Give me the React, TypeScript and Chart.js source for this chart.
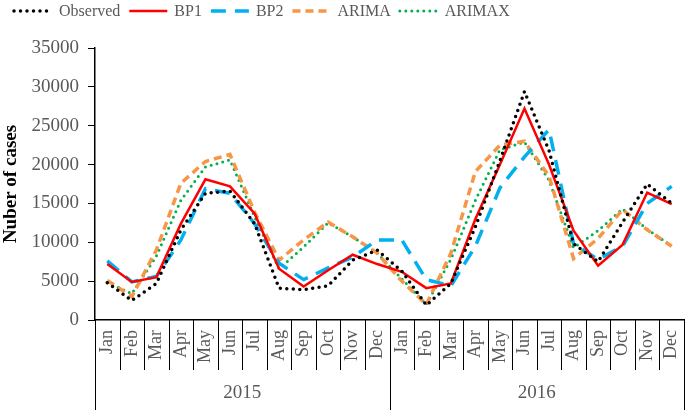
import React, { useEffect, useRef } from "react";
import { Chart, registerables } from "chart.js";

Chart.register(...registerables);

const months = ["Jan", "Feb", "Mar", "Apr", "May", "Jun", "Jul", "Aug", "Sep", "Oct", "Nov", "Dec"];
const years = ["2015", "2016"];
const categories = years.flatMap((y) => months.map((m) => `${m} ${y}`));

const observed = [4800, 2500, 4700, 11600, 16300, 16600, 12400, 4100, 3900, 4400, 7700, 9000,
  6300, 1900, 4700, 12000, 20500, 29400, 21800, 9800, 7500, 12600, 17500, 15000];
const bp1 = [7200, 4900, 5500, 12400, 18100, 17200, 13700, 6600, 4300, 6400, 8400, 7200,
  6200, 4100, 4700, 13000, 20000, 27200, 20000, 11500, 7000, 9700, 16400, 14900];
const bp2 = [7600, 4900, 5600, 10300, 16900, 16300, 12400, 7300, 5200, 6700, 8100, 10300,
  10300, 5200, 4400, 9500, 17000, 21000, 24500, 9800, 7800, 9500, 15000, 17200];
const arima = [5100, 3000, 9000, 17600, 20400, 21300, 13900, 7700, 10300, 12600, 10700, 8600,
  5000, 2000, 8600, 19100, 22500, 23000, 18500, 7900, 10500, 14200, 11600, 9500];
const arimax = [4800, 3400, 8200, 15400, 19700, 20600, 13300, 6600, 9400, 12500, 10700, 8600,
  5300, 2000, 7800, 15400, 21900, 22900, 18000, 9300, 11500, 14300, 11700, 9500];

const yMin = 0;
const yMax = 35000;
const yStep = 5000;

const FONT = "'Liberation Serif', 'Times New Roman', serif";
const GREY = "#595959";

const xAxisLabels = {
  id: "xAxisLabels",
  afterDraw(chart: any) {
    const { ctx, chartArea } = chart;
    const xs = chart.scales.x;
    const n = categories.length;
    const cell = (chartArea.right - chartArea.left) / n;
    const top = chartArea.bottom;
    const H = chart.height;
    ctx.save();
    ctx.strokeStyle = "#000";
    ctx.lineWidth = 1;
    for (let i = 0; i <= n; i++) {
      const xb = Math.round(chartArea.left + i * cell) + 0.5;
      const isYear = i % 12 === 0;
      ctx.beginPath();
      ctx.moveTo(xb, top);
      ctx.lineTo(xb, isYear ? H : top + 50);
      ctx.stroke();
    }
    ctx.fillStyle = GREY;
    ctx.font = `18px ${FONT}`;
    ctx.textAlign = "right";
    ctx.textBaseline = "middle";
    for (let i = 0; i < n; i++) {
      const cx = xs.getPixelForValue(i);
      ctx.save();
      ctx.translate(cx, top + 10);
      ctx.rotate(-Math.PI / 2);
      ctx.fillText(months[i % 12], 0, 0);
      ctx.restore();
    }
    ctx.textAlign = "center";
    ctx.font = `19px ${FONT}`;
    years.forEach((y, k) => {
      const cx = (xs.getPixelForValue(k * 12) + xs.getPixelForValue(k * 12 + 11)) / 2;
      ctx.fillText(y, cx, top + 73);
    });
    ctx.restore();
  },
};

const customLegend = {
  id: "customLegend",
  afterDraw(chart: any) {
    const { ctx } = chart;
    const y = 11;
    const sample = 38;
    let x = 14;
    ctx.save();
    ctx.font = `16px ${FONT}`;
    ctx.textBaseline = "middle";
    ctx.textAlign = "left";
    chart.data.datasets.forEach((ds: any) => {
      ctx.save();
      ctx.strokeStyle = ds.borderColor;
      ctx.lineWidth = ds.borderWidth;
      ctx.lineCap = ds.borderCapStyle || "butt";
      ctx.setLineDash(ds.borderDash || []);
      ctx.beginPath();
      ctx.moveTo(x, y);
      ctx.lineTo(x + sample, y);
      ctx.stroke();
      ctx.restore();
      x += sample + 7;
      ctx.fillStyle = GREY;
      ctx.fillText(ds.label, x, y + 1);
      x += ctx.measureText(ds.label).width + 9;
    });
    ctx.restore();
  },
};

export default function App() {
  const ref = useRef<HTMLCanvasElement | null>(null);
  useEffect(() => {
    if (!ref.current) return;
    const chart = new Chart(ref.current, {
      type: "line",
      data: {
        labels: categories,
        datasets: [
          {
            label: "Observed",
            data: observed,
            borderColor: "#000000",
            backgroundColor: "#000000",
            borderWidth: 3.5,
            borderDash: [0, 6.5],
            borderCapStyle: "round",
            pointRadius: 0,
            tension: 0,
          },
          {
            label: "BP1",
            data: bp1,
            borderColor: "#ff0000",
            backgroundColor: "#ff0000",
            borderWidth: 2.5,
            pointRadius: 0,
            tension: 0,
          },
          {
            label: "BP2",
            data: bp2,
            borderColor: "#00b0f0",
            backgroundColor: "#00b0f0",
            borderWidth: 3.5,
            borderDash: [15, 9],
            pointRadius: 0,
            tension: 0,
          },
          {
            label: "ARIMA",
            data: arima,
            borderColor: "#f79646",
            backgroundColor: "#f79646",
            borderWidth: 3.5,
            borderDash: [8, 5],
            pointRadius: 0,
            tension: 0,
          },
          {
            label: "ARIMAX",
            data: arimax,
            borderColor: "#00b050",
            backgroundColor: "#00b050",
            borderWidth: 3,
            borderDash: [0, 6],
            borderCapStyle: "round",
            pointRadius: 0,
            tension: 0,
          },
        ],
      },
      options: {
        responsive: true,
        maintainAspectRatio: false,
        animation: false,
        layout: { padding: { top: 48, right: 1, left: 0, bottom: 0 } },
        plugins: {
          legend: { display: false },
          tooltip: { enabled: false },
        },
        scales: {
          x: {
            type: "category",
            offset: true,
            grid: { display: false, drawTicks: false },
            border: { display: true, color: "#000", width: 1.5 },
            ticks: { display: false },
            afterFit: (s: any) => {
              s.height = 90;
            },
          },
          y: {
            min: yMin,
            max: yMax,
            ticks: {
              stepSize: yStep,
              font: { family: FONT, size: 19 },
              color: GREY,
              padding: 9,
              callback: (v: any) => String(v),
            },
            grid: { drawOnChartArea: false, drawTicks: true, tickLength: 7, color: "#000" },
            border: { display: true, color: "#000", width: 1.5 },
            title: {
              display: true,
              text: "Nuber of cases",
              font: { family: FONT, size: 19, weight: "bold" },
              color: "#000",
              padding: 0,
            },
            afterFit: (s: any) => {
              s.width = 95;
            },
          },
        },
      },
      plugins: [xAxisLabels, customLegend],
    });
    return () => chart.destroy();
  }, []);
  return (
    <div style={{ position: "fixed", left: 0, top: 0, width: 685, height: 410, background: "#fff" }}>
      <canvas ref={ref} />
    </div>
  );
}
